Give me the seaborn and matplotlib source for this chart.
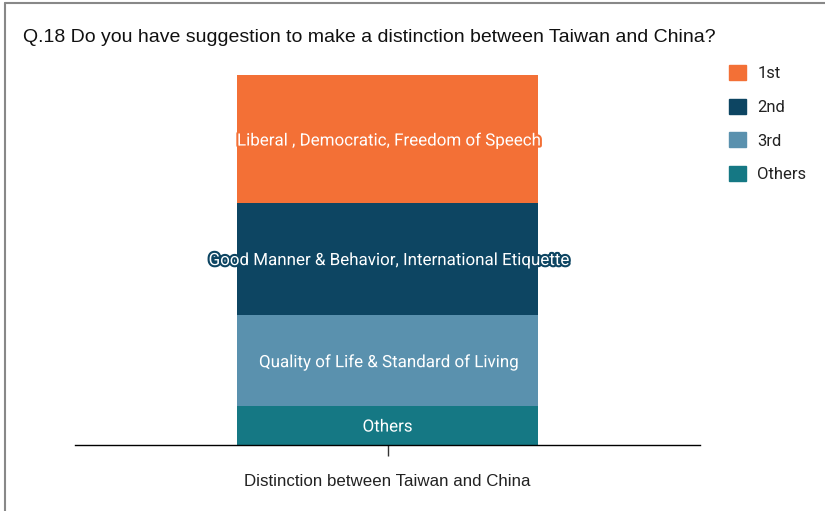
import numpy as np
import pandas as pd
import matplotlib
matplotlib.use("Agg")
import matplotlib.pyplot as plt
import matplotlib.patheffects as pe
from matplotlib.patches import Patch
from matplotlib.lines import Line2D
import seaborn as sns

# data (share of answers, %)
category = ["Distinction between Taiwan and China"]
series = ["1st", "2nd", "3rd", "Others"]
values = [34.6, 30.3, 24.6, 10.5]
seg_labels = ["Liberal , Democratic, Freedom of Speech",
              "Good Manner & Behavior, International Etiquette",
              "Quality of Life & Standard of Living",
              "Others"]
colors = ["#F37036", "#0D4562", "#5A91AE", "#157884"]

sns.set_style("white")

fig = plt.figure(figsize=(8.25, 5.11), dpi=100)
ax = fig.add_axes([75 / 825, 1 - 445 / 511, 625 / 825, 370 / 511])

# stack from the bottom: Others, 3rd, 2nd, 1st
order = list(range(len(series)))[::-1]
bottoms = {}
run = 0.0
for i in order:
    bottoms[i] = run
    run += values[i]
total = run

# draw cumulative bars, tallest first so each shorter one sits on top
for i in sorted(order, key=lambda k: -(bottoms[k] + values[k])):
    df = pd.DataFrame({"cat": category, "val": [bottoms[i] + values[i]]})
    sns.barplot(data=df, x="cat", y="val", color=colors[i], saturation=1,
                width=0.8, ax=ax, linewidth=0, errorbar=None)

for i in order:
    mid = bottoms[i] + values[i] / 2
    ax.text(0, mid, seg_labels[i], ha="center", va="center_baseline",
            color="white", fontsize=12.2, family="Roboto",
            path_effects=[pe.withStroke(linewidth=3, foreground=colors[i])])

ax.set_xlim(-0.828, 0.828)
ax.set_ylim(0, total)
ax.set_xlabel("")
ax.set_ylabel("")
ax.set_yticks([])
for s in ["top", "right", "left"]:
    ax.spines[s].set_visible(False)
ax.spines["bottom"].set_color("black")
ax.spines["bottom"].set_linewidth(1)
ax.tick_params(axis="x", bottom=True, length=8, width=1, color="#333333",
               pad=13, labelsize=12.2)
for t in ax.get_xticklabels():
    t.set_family("Liberation Sans")
    t.set_color("#222222")

fig.text(23 / 825, 1 - 37 / 511,
         "Q.18 Do you have suggestion to make a distinction between Taiwan and China?",
         fontsize=14, family="Liberation Sans", color="#111111", va="center")

handles = [Patch(facecolor=c, edgecolor=c) for c in colors]
fig.legend(handles, series, loc="upper left",
           bbox_to_anchor=(729 / 825, 1 - 65 / 511), frameon=False,
           borderpad=0, borderaxespad=0,
           prop={"family": "Roboto", "size": 12}, handlelength=1.0,
           handleheight=1.0, labelspacing=1.05, handletextpad=0.7,
           labelcolor="#222222")

# frame lines on the left and top of the picture
fig.add_artist(Line2D([5 / 825, 5 / 825], [0, 1 - 3 / 511], color="#888888",
                      lw=1.5, transform=fig.transFigure))
fig.add_artist(Line2D([5 / 825, 1], [1 - 3 / 511, 1 - 3 / 511], color="#888888",
                      lw=1.5, transform=fig.transFigure))

fig.savefig("out.png", dpi=100)
